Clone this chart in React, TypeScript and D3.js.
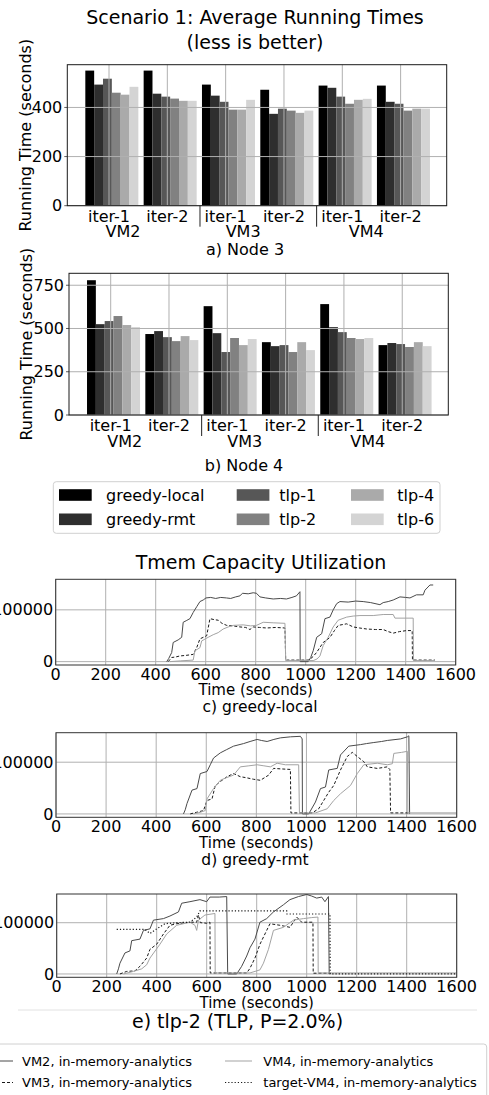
import React from 'react';
import * as d3 from 'd3';

// ---- bar charts (running times) ----
const policies = ['greedy-local', 'greedy-rmt', 'tlp-1', 'tlp-2', 'tlp-4', 'tlp-6'];
const policyColors = ['#000000', '#2e2e2e', '#575757', '#818181', '#aaaaaa', '#d4d4d4'];
const iterLabels = ['iter-1', 'iter-2', 'iter-1', 'iter-2', 'iter-1', 'iter-2'];
const vmLabels = ['VM2', 'VM3', 'VM4'];

// one value per group: VM2 it1, VM2 it2, VM3 it1, VM3 it2, VM4 it1, VM4 it2
const node3GreedyLocal = [550, 550, 493, 472, 489, 489];
const node3GreedyRmt = [493, 456, 448, 374, 480, 423];
const node3Tlp1 = [517, 444, 423, 395, 444, 415];
const node3Tlp2 = [460, 436, 391, 387, 415, 387];
const node3Tlp4 = [452, 427, 391, 378, 431, 395];
const node3Tlp6 = [484, 427, 431, 387, 435, 395];

const node4GreedyLocal = [779, 468, 629, 421, 641, 404];
const node4GreedyRmt = [525, 485, 473, 398, 508, 416];
const node4Tlp1 = [543, 450, 364, 404, 479, 410];
const node4Tlp2 = [572, 427, 445, 364, 445, 393];
const node4Tlp4 = [520, 456, 404, 421, 439, 421];
const node4Tlp6 = [508, 433, 439, 375, 445, 398];

const node3Ticks = [0, 200, 400];
const node4Ticks = [0, 250, 500, 750];

// ---- tmem utilization, [time (s), pages] ----
const timeTicks = [0, 200, 400, 600, 800, 1000, 1200, 1400, 1600];
const tmemTicks = [0, 100000];

const greedyLocalVM2 = [
  [444, 0], [452, 6000], [464, 17600], [470, 37000], [490, 42000], [504, 47000], [510, 76000], [522, 79000],
  [537, 83000], [550, 95000], [564, 106000], [577, 116000], [590, 119000], [601, 123000], [620, 124000],
  [640, 122000], [660, 124000], [683, 123000], [700, 122000], [720, 125000], [737, 127000], [747, 132000],
  [770, 131000], [790, 133000], [803, 132000], [817, 125000], [840, 123000], [870, 121000], [900, 122000],
  [923, 121000], [945, 124000], [963, 127000], [977, 135000], [978, 0], [1010, 0], [1020, 8000], [1030, 21000],
  [1044, 47000], [1064, 54000], [1077, 83000], [1097, 86000], [1110, 100000], [1124, 112000], [1137, 116000],
  [1170, 115000], [1200, 117000], [1230, 116000], [1260, 114000], [1297, 110000], [1310, 114000],
  [1330, 116000], [1350, 119000], [1377, 125000], [1400, 124000], [1417, 123000], [1443, 129000],
  [1470, 129000], [1477, 138000], [1497, 148000], [1510, 148000],
];
const greedyLocalVM3 = [
  [450, 0], [464, 8000], [480, 9000], [497, 11000], [520, 12000], [550, 14000], [564, 27000], [577, 44000],
  [604, 50000], [617, 83000], [635, 81000], [650, 80000], [665, 74000], [684, 70000], [710, 69000],
  [737, 67000], [760, 66000], [777, 62000], [790, 67000], [815, 66000], [844, 65000], [880, 66000],
  [917, 65000], [920, 3000], [1010, 3000], [1017, 4500], [1030, 10000], [1044, 18000], [1070, 37000],
  [1085, 42000], [1097, 47000], [1115, 60000], [1130, 70000], [1164, 73000], [1190, 67000], [1215, 65000],
  [1244, 63000], [1280, 62000], [1310, 62000], [1330, 58000], [1350, 55000], [1375, 58000], [1404, 60000],
  [1426, 60000], [1427, 3000], [1517, 3000],
];
const greedyLocalVM4 = [
  [457, 0], [500, 1500], [550, 3000], [557, 21000], [577, 27000], [584, 40000], [610, 47000], [630, 52000],
  [650, 56000], [670, 63000], [690, 67000], [710, 70000], [750, 71000], [780, 69000], [803, 70000],
  [830, 76000], [870, 75000], [917, 74000], [920, 2000], [1030, 2000], [1045, 5000], [1057, 11000],
  [1070, 31000], [1090, 47000], [1110, 67000], [1130, 80000], [1164, 86000], [1190, 88000], [1217, 89000],
  [1270, 89000], [1310, 91000], [1350, 91000], [1357, 84000], [1430, 84000], [1431, 2000], [1517, 2000],
];

const greedyRmtVM2 = [
  [509, 0], [516, 8000], [523, 20000], [543, 46000], [563, 49000], [576, 78000], [603, 82000], [616, 95000],
  [629, 108000], [656, 118000], [680, 124000], [709, 131000], [749, 136000], [775, 140000], [803, 144000],
  [820, 142000], [843, 140000], [870, 144000], [896, 147000], [936, 149000], [976, 150000], [983, 145000],
  [984, 0], [1009, 0], [1036, 23000], [1056, 49000], [1076, 52000], [1089, 85000], [1123, 88000],
  [1136, 114000], [1169, 131000], [1216, 134000], [1240, 136000], [1269, 138000], [1300, 140000],
  [1323, 142000], [1376, 145000], [1403, 149000], [1409, 151000], [1412, 0],
];
const greedyRmtVM3 = [
  [536, 0], [560, 3000], [589, 6500], [603, 26000], [623, 29000], [636, 55000], [660, 64000], [683, 72000],
  [709, 78000], [736, 72000], [760, 70000], [789, 67000], [816, 65000], [849, 75000], [869, 88000],
  [900, 87000], [936, 86000], [938, 2000], [1023, 2000], [1049, 10000], [1069, 26000], [1089, 42000],
  [1109, 55000], [1136, 85000], [1163, 111000], [1183, 119000], [1203, 111000], [1229, 101000],
  [1243, 91000], [1283, 88000], [1323, 91000], [1333, 86000], [1336, 2000], [1409, 2000],
];
const greedyRmtVM4 = [
  [549, 0], [575, 3000], [596, 6500], [603, 29000], [629, 49000], [656, 65000], [680, 70000], [709, 75000],
  [736, 91000], [770, 93000], [803, 95000], [830, 93000], [856, 91000], [883, 98000], [916, 95000],
  [969, 95000], [972, 2000], [1036, 2000], [1083, 10000], [1109, 26000], [1136, 39000], [1176, 55000],
  [1203, 78000], [1229, 95000], [1283, 98000], [1323, 95000], [1343, 97000], [1349, 117000],
  [1380, 119000], [1403, 121000], [1405, 2000], [1600, 2000],
];

const tlp2VM2 = [
  [240, 0], [247, 10000], [253, 21000], [273, 41000], [293, 45000], [300, 65000], [333, 68000], [347, 85000],
  [373, 88000], [387, 105000], [427, 108000], [453, 113000], [487, 121000], [500, 138000], [533, 141000],
  [573, 145000], [600, 141000], [613, 150000], [650, 150000], [680, 151000], [684, 0], [720, 0],
  [740, 15000], [760, 35000], [773, 51000], [793, 68000], [813, 101000], [840, 108000], [867, 121000],
  [907, 135000], [933, 145000], [967, 151000], [1000, 155000], [1020, 152000], [1040, 148000],
  [1060, 150000], [1073, 141000], [1087, 151000], [1090, 0],
];
const tlp2VM3 = [
  [253, 0], [280, 5000], [313, 6000], [333, 15000], [360, 31000], [373, 48000], [400, 58000], [427, 78000],
  [453, 95000], [480, 98000], [533, 101000], [560, 101000], [567, 115000], [575, 100000], [600, 99000],
  [613, 101000], [614, 2000], [760, 2000], [773, 11000], [793, 31000], [813, 58000], [840, 85000],
  [853, 98000], [893, 95000], [933, 91000], [960, 111000], [980, 101000], [1025, 101000], [1026, 1500],
  [1090, 1500],
];
const tlp2VM4 = [
  [267, 0], [307, 5000], [340, 10000], [360, 18000], [373, 31000], [413, 58000], [440, 78000], [480, 95000],
  [533, 101000], [553, 95000], [560, 85000], [567, 105000], [593, 115000], [633, 118000], [634, 2000],
  [773, 2000], [813, 8000], [827, 21000], [847, 48000], [867, 85000], [907, 91000], [947, 105000],
  [987, 108000], [1020, 110000], [1045, 111000], [1046, 2000], [1600, 2000],
];
const tlp2Target = [
  [240, 87000], [353, 87000], [373, 79000], [400, 88000], [433, 98000], [480, 100000], [533, 101000],
  [560, 111000], [573, 123000], [920, 123000], [921, 117000], [1093, 117000], [1094, 0], [1600, 0],
];

const seriesNames = ['VM2, in-memory-analytics', 'VM3, in-memory-analytics', 'VM4, in-memory-analytics', 'target-VM4, in-memory-analytics'];
const seriesStyle = [
  { stroke: '#4a4a4a', dash: null, w: 1 },
  { stroke: '#1a1a1a', dash: '3,2', w: 1 },
  { stroke: '#a3a3a3', dash: null, w: 1 },
  { stroke: '#1a1a1a', dash: '1.2,2', w: 1.2 },
];

const FONT = 'DejaVu Sans, sans-serif';
const GRID = '#b0b0b0';

function BarPanel(props) {
  const { rows, left, right, top, bottom, yMax, yTicks, caption, captionX, captionY, ylabelX } = props;
  const x = d3.scaleLinear().domain([-0.715, 5.79]).range([left, right]);
  const y = d3.scaleLinear().domain([0, yMax]).range([bottom, top]);
  const barW = 0.1515;
  const barStart = -0.406;
  const groups = d3.range(iterLabels.length);
  const vmPos = [0.24, 2.3, 4.41];
  const seps = [1.56, 3.56];
  return (
    <g>
      {rows.map((vals, j) =>
        vals.map((v, i) => (
          <rect key={`${j}-${i}`} x={x(i + barStart + j * barW)} width={x(barW) - x(0)}
            y={y(v)} height={y(0) - y(v)} fill={policyColors[j]} />
        ))
      )}
      {groups.map(i => (
        <line key={'gx' + i} x1={x(i)} x2={x(i)} y1={top} y2={bottom} stroke={GRID} strokeWidth={1} />
      ))}
      {yTicks.map(t => (
        <g key={'gy' + t}>
          <line x1={left} x2={right} y1={y(t)} y2={y(t)} stroke={GRID} strokeWidth={1} />
          <line x1={left - 3} x2={left} y1={y(t)} y2={y(t)} stroke="#333" strokeWidth={0.8} />
          <text x={left - 5} y={y(t)} dy="0.35em" textAnchor="end" fontSize={16}>{t}</text>
        </g>
      ))}
      <rect x={left} y={top} width={right - left} height={bottom - top} fill="none" stroke="#1a1a1a" strokeWidth={1} />
      {groups.map(i => (
        <text key={'it' + i} x={x(i)} y={bottom + 10.5} dy="0.35em" textAnchor="middle" fontSize={16}>{iterLabels[i]}</text>
      ))}
      {seps.map(s => (
        <line key={'s' + s} x1={x(s)} x2={x(s)} y1={bottom} y2={bottom + 21} stroke="#222" strokeWidth={1} />
      ))}
      {vmLabels.map((l, k) => (
        <text key={l} x={x(vmPos[k])} y={bottom + 26} dy="0.35em" textAnchor="middle" fontSize={16}>{l}</text>
      ))}
      <text x={captionX} y={captionY} dy="0.35em" textAnchor="middle" fontSize={16}>{caption}</text>
      <text transform={`translate(${ylabelX},${(top + bottom) / 2}) rotate(-90)`} dy="0.35em" textAnchor="middle" fontSize={16}>
        Running Time (seconds)
      </text>
    </g>
  );
}

function LinePanel(props) {
  const { series, left, right, top, bottom, yDomain, caption, captionX, captionY, captionSize } = props;
  const x = d3.scaleLinear().domain([0, 1600]).range([left, right]);
  const y = d3.scaleLinear().domain(yDomain).range([bottom, top]);
  const line = d3.line().x(d => x(d[0])).y(d => y(d[1]));
  return (
    <g>
      {timeTicks.map(t => (
        <line key={'gx' + t} x1={x(t)} x2={x(t)} y1={top} y2={bottom} stroke={GRID} strokeWidth={1} />
      ))}
      {tmemTicks.map(t => (
        <g key={'gy' + t}>
          <line x1={left} x2={right} y1={y(t)} y2={y(t)} stroke={GRID} strokeWidth={1} />
          <text x={left - 2.5} y={y(t)} dy="0.35em" textAnchor="end" fontSize={16}>{t}</text>
        </g>
      ))}
      {series.map((s, k) => s && (
        <path key={k} d={line(s)} fill="none" stroke={seriesStyle[k].stroke}
          strokeWidth={seriesStyle[k].w} strokeDasharray={seriesStyle[k].dash || undefined} />
      ))}
      <rect x={left} y={top} width={right - left} height={bottom - top} fill="none" stroke="#333" strokeWidth={1} />
      {timeTicks.map(t => (
        <text key={'tx' + t} x={x(t)} y={bottom + 9} dy="0.35em" textAnchor="middle" fontSize={16}>{t}</text>
      ))}
      <text x={(left + right) / 2} y={bottom + 25} dy="0.35em" textAnchor="middle" fontSize={15}>Time (seconds)</text>
      <text x={captionX} y={captionY} dy="0.35em" textAnchor="middle" fontSize={captionSize}>{caption}</text>
    </g>
  );
}

export default function App() {
  const node3 = [node3GreedyLocal, node3GreedyRmt, node3Tlp1, node3Tlp2, node3Tlp4, node3Tlp6];
  const node4 = [node4GreedyLocal, node4GreedyRmt, node4Tlp1, node4Tlp2, node4Tlp4, node4Tlp6];
  const legendCols = [[59, 106], [236.7, 279.3], [351, 397.3]];
  const legendRows = [495, 519.3];
  const lineLegCols = [[-8, 13, 22], [225, 252, 263.3]];
  const lineLegRows = [1061, 1082.5];
  return (
    <svg width={489} height={1095} style={{ position: 'absolute', left: 0, top: 0, background: '#fff' }}
      fontFamily={FONT} fill="#000">
      <rect width={489} height={1095} fill="#fff" />
      <text x={255} y={17} dy="0.35em" textAnchor="middle" fontSize={19}>Scenario 1: Average Running Times</text>
      <text x={255} y={42} dy="0.35em" textAnchor="middle" fontSize={19}>(less is better)</text>

      <BarPanel rows={node3} left={67.3} right={446.7} top={64.7} bottom={205.7} yMax={574}
        yTicks={node3Ticks} caption="a) Node 3" captionX={245} captionY={249.5} ylabelX={25} />
      <BarPanel rows={node4} left={69} right={448.3} top={273.3} bottom={415} yMax={819}
        yTicks={node4Ticks} caption="b) Node 4" captionX={244} captionY={465} ylabelX={26.7} />

      <rect x={53.3} y={481.7} width={386.7} height={51.6} rx={3} fill="#fff" stroke="#d0d0d0" strokeWidth={1} />
      {policies.map((p, j) => {
        const col = legendCols[Math.floor(j / 2)];
        const ry = legendRows[j % 2];
        return (
          <g key={p}>
            <rect x={col[0]} y={ry - 5.8} width={32.7} height={11.6} fill={policyColors[j]} />
            <text x={col[1]} y={ry} dy="0.35em" fontSize={16}>{p}</text>
          </g>
        );
      })}

      <text x={261} y={562.7} dy="0.35em" textAnchor="middle" fontSize={19}>Tmem Capacity Utilization</text>
      <LinePanel series={[greedyLocalVM2, greedyLocalVM3, greedyLocalVM4]} left={55.7} right={455.7} top={579.3}
        bottom={665} yDomain={[-6500, 159000]} caption="c) greedy-local" captionX={260} captionY={707} captionSize={15.5} />
      <LinePanel series={[greedyRmtVM2, greedyRmtVM3, greedyRmtVM4]} left={56} right={456.7} top={732.7}
        bottom={817.3} yDomain={[-6500, 157000]} caption="d) greedy-rmt" captionX={255} captionY={860} captionSize={15.5} />
      <LinePanel series={[tlp2VM2, tlp2VM3, tlp2VM4, tlp2Target]} left={56.7} right={456.7} top={894}
        bottom={977.3} yDomain={[-6500, 156000]} caption="e) tlp-2 (TLP, P=2.0%)" captionX={237.5} captionY={1021.7} captionSize={19} />

      <line x1={18} x2={477} y1={1010} y2={1010} stroke="#e2e2e2" strokeWidth={1} />

      <rect x={-5} y={1044} width={491.7} height={60} rx={3} fill="#fff" stroke="#d0d0d0" strokeWidth={1} />
      {seriesNames.map((n, k) => {
        const col = lineLegCols[Math.floor(k / 2)];
        const ry = lineLegRows[k % 2];
        const st = seriesStyle[k];
        return (
          <g key={n}>
            <line x1={col[0]} x2={col[1]} y1={ry} y2={ry} stroke={st.stroke} strokeWidth={st.w}
              strokeDasharray={st.dash || undefined} />
            <text x={col[2]} y={ry} dy="0.35em" fontSize={13}>{n}</text>
          </g>
        );
      })}
    </svg>
  );
}
